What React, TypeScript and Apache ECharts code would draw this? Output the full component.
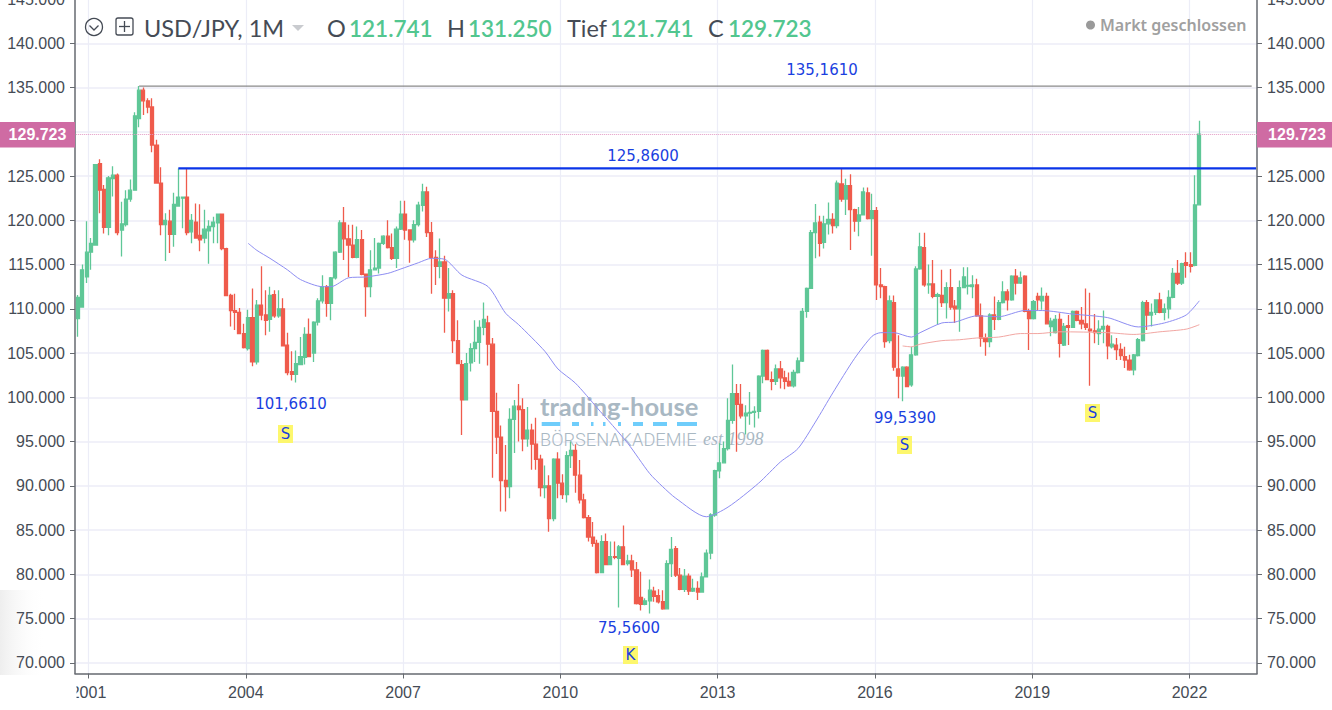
import React, { useEffect, useRef } from "react";
import * as echarts from "echarts";

// [open, close, low, high], monthly, Nov 2000 to Apr 2022
const bars2000 = [[108.9,111.3,106.85,111.55],[110.2,114.4,110.2,115.0]];
const bars2001 = [[113.6,116.4,112.9,119.9],[116.4,117.4,114.4,118.0],[117.2,126.3,117.2,126.3],[126.4,123.4,120.8,126.9],[123.5,119.2,118.5,124.0],[119.2,124.8,118.3,125.0],[124.7,125.1,122.7,126.1],[125.1,118.6,118.3,125.3],[118.9,119.6,115.9,122.1],[119.5,122.4,119.3,123.4],[122.4,123.4,122.1,124.6],[123.4,131.8,123.4,132.2]];
const bars2002 = [[131.5,134.7,130.5,135.16],[134.7,133.5,131.9,135.0],[133.5,132.8,132.1,133.8],[132.8,128.5,127.7,133.8],[128.5,124.2,124.2,129.1],[124.2,119.5,118.3,126.0],[119.5,120.0,115.4,120.8],[119.9,118.4,116.3,121.2],[118.4,121.8,117.0,123.1],[121.6,122.6,121.6,125.86],[122.5,122.6,119.1,122.7],[122.6,118.6,118.3,125.8]];
const bars2003 = [[118.7,120.0,117.4,120.7],[119.8,118.0,118.0,121.9],[118.3,117.8,116.5,121.8],[118.0,119.0,117.4,121.2],[118.8,119.3,115.1,120.0],[119.3,119.8,117.4,120.4],[119.7,120.7,117.4,120.7],[120.7,116.8,116.6,120.7],[116.8,111.5,111.5,116.9],[111.5,109.8,108.0,111.7],[109.8,109.6,107.6,111.7],[109.6,107.2,107.2,110.1]];
const bars2004 = [[107.2,105.6,105.5,108.3],[105.5,109.0,105.3,109.9],[109.0,104.0,103.5,112.3],[104.0,110.4,103.7,111.0],[110.4,109.3,108.7,114.8],[109.3,108.7,107.0,112.1],[108.8,111.5,107.4,112.5],[111.6,109.2,109.0,112.1],[109.2,110.0,109.0,112.1],[110.0,105.8,105.8,111.2],[105.9,102.8,102.5,107.3],[102.9,102.6,101.9,105.2]];
const bars2005 = [[102.6,103.8,101.66,105.3],[103.7,104.6,103.7,106.8],[104.5,107.1,103.7,107.9],[107.1,104.6,104.6,108.9],[105.0,108.5,104.0,108.6],[108.5,110.9,108.1,111.2],[110.9,112.5,110.6,113.8],[112.5,110.6,109.1,112.7],[110.6,113.5,108.7,113.6],[113.5,116.4,113.3,116.5],[116.4,119.7,116.3,120.0],[119.7,117.9,115.5,121.5]];
const bars2006 = [[117.9,117.2,113.6,119.5],[117.2,115.8,115.7,119.5],[115.8,117.8,115.7,119.3],[117.8,113.9,113.8,118.9],[113.9,112.5,109.1,113.9],[112.5,114.4,111.3,116.6],[114.4,114.6,114.4,118.0],[114.6,117.4,114.0,117.5],[117.4,118.2,117.2,118.3],[118.2,116.9,116.8,120.0],[116.9,115.7,115.5,118.5],[115.7,119.0,114.6,119.3]];
const bars2007 = [[119.0,120.7,118.9,122.2],[120.7,118.9,117.8,122.2],[118.9,117.8,115.2,118.9],[117.8,119.5,117.5,120.0],[119.5,121.7,119.3,122.1],[121.7,123.2,121.0,124.14],[123.2,118.6,118.1,123.8],[118.6,115.8,111.7,119.8],[115.8,114.8,112.7,116.6],[114.8,115.3,113.45,117.95],[115.3,111.2,107.3,116.0],[111.2,111.7,109.7,114.6]];
const bars2008 = [[111.7,106.4,105.0,112.1],[106.4,103.8,103.8,108.7],[103.7,99.7,95.75,104.2],[99.7,103.8,99.7,105.0],[103.9,105.5,102.9,106.1],[105.5,106.2,104.0,108.7],[106.2,107.9,103.8,108.7],[107.9,108.8,107.0,110.7],[108.4,106.0,103.6,109.2],[106.0,98.4,90.9,106.7],[98.4,95.5,93.6,100.5],[95.5,90.6,87.1,96.8]];
const bars2009 = [[90.6,89.9,87.1,94.6],[89.9,97.5,88.6,98.75],[97.5,99.0,93.7,99.7],[99.0,98.6,95.0,101.5],[98.6,95.3,93.9,99.9],[95.3,96.3,94.4,98.9],[96.3,94.7,91.8,97.0],[94.7,93.0,91.8,97.7],[93.0,89.8,88.8,93.5],[89.8,90.0,88.6,92.3],[90.0,86.3,84.8,91.2],[86.3,93.0,86.0,93.1]];
const bars2010 = [[93.0,90.3,88.6,93.8],[90.3,89.0,88.5,91.3],[89.0,93.4,88.1,93.9],[93.4,94.0,92.0,95.0],[94.0,91.2,89.2,94.7],[91.2,88.4,88.0,92.9],[88.4,86.4,86.3,89.1],[86.4,84.2,83.7,86.7],[84.2,83.5,83.1,85.9],[83.5,80.2,80.1,83.9],[80.2,83.7,80.2,84.4],[83.7,81.1,81.1,84.6]];
const bars2011 = [[81.1,82.0,81.1,83.7],[82.0,81.9,81.7,83.7],[81.8,83.1,76.25,83.3],[83.1,81.1,81.1,85.5],[81.2,81.5,81.0,82.2],[81.5,80.5,79.7,82.2],[80.5,76.7,76.6,81.4],[77.4,76.6,75.9,80.3],[76.6,77.0,76.5,77.3],[77.0,78.2,75.56,79.4],[78.1,77.5,76.9,78.6],[77.6,76.9,76.7,78.3]];
const bars2012 = [[76.9,76.1,76.0,78.2],[76.1,81.2,76.1,81.6],[81.2,82.8,79.7,84.2],[82.9,79.9,79.7,83.2],[79.9,78.3,78.2,80.7],[78.3,79.8,78.0,80.6],[79.8,78.1,77.65,80.1],[78.1,78.4,78.0,79.5],[78.4,78.0,77.1,79.2],[78.0,79.7,77.9,80.2],[79.7,82.4,79.7,82.8],[82.4,86.7,81.7,86.9]];
const bars2013 = [[86.7,91.7,86.5,91.8],[91.7,92.6,90.85,94.8],[92.6,94.2,92.6,95.0],[94.2,97.4,94.0,99.9],[97.4,100.4,97.0,103.7],[100.4,99.2,93.85,101.5],[99.2,97.9,97.6,101.5],[97.9,98.2,95.8,99.1],[98.2,98.3,96.9,100.6],[98.3,98.4,96.6,99.0],[98.4,102.4,97.6,102.5],[102.4,105.3,101.6,105.4]];
const bars2014 = [[105.3,102.0,102.0,105.4],[102.0,101.8,100.8,102.9],[101.8,103.2,101.4,103.7],[103.2,102.2,101.0,104.1],[102.2,101.8,100.9,103.0],[101.8,101.3,101.2,102.8],[101.3,102.8,101.1,103.1],[102.8,104.1,102.7,104.5],[104.1,109.7,104.0,110.1],[109.7,112.3,109.0,112.4],[112.3,118.6,112.3,118.9],[118.6,119.7,115.7,121.85]];
const bars2015 = [[119.8,117.4,115.9,120.5],[117.5,119.6,116.8,120.5],[119.6,120.1,118.4,122.0],[120.1,119.4,118.5,120.8],[119.4,124.2,119.1,124.5],[124.1,122.4,122.1,125.86],[122.4,123.9,120.6,124.7],[123.9,121.2,116.65,125.2],[121.2,119.9,118.7,121.3],[119.9,120.6,118.2,121.5],[120.6,123.2,120.6,123.7],[123.1,120.2,120.1,123.7]];
const bars2016 = [[120.2,121.1,116.0,123.0],[121.1,112.7,111.0,121.5],[112.7,112.5,111.2,114.6],[112.5,106.3,105.6,112.6],[106.4,110.9,106.1,111.5],[110.7,103.4,103.0,111.5],[103.2,102.4,99.9,107.0],[102.4,103.4,99.54,103.5],[103.4,101.2,101.2,103.5],[101.4,104.8,101.2,105.7],[104.8,114.5,104.7,114.8],[114.5,117.0,114.4,118.6]];
const bars2017 = [[116.9,112.7,112.5,118.6],[112.7,112.8,111.7,115.0],[112.8,111.4,111.2,115.5],[111.4,111.6,108.2,111.8],[111.5,110.7,110.2,114.4],[110.7,112.4,108.9,113.0],[112.4,110.2,109.9,114.5],[110.3,110.0,108.4,111.0],[110.0,112.4,107.4,113.2],[112.4,113.6,112.4,114.7],[112.55,112.65,111.6,114.7],[112.5,112.7,111.2,113.8]];
const bars2018 = [[112.7,109.2,109.1,113.4],[109.2,106.7,105.7,110.6],[106.7,106.3,104.7,107.2],[106.3,109.3,105.65,109.5],[109.3,108.8,107.6,111.4],[108.8,110.7,108.7,111.0],[110.7,111.9,110.6,113.1],[111.9,111.0,109.8,112.2],[111.0,113.7,110.9,113.8],[113.7,112.9,111.6,114.5],[112.9,113.5,112.8,114.2],[113.7,109.7,109.6,113.8]];
const bars2019 = [[109.7,108.9,105.35,110.0],[108.9,110.8,108.8,111.0],[111.4,111.0,109.8,111.8],[110.9,111.4,109.9,112.4],[111.4,108.3,108.3,111.8],[108.0,108.6,106.9,109.0],[107.3,108.8,107.2,109.3],[108.8,106.1,104.5,109.5],[105.9,108.0,105.8,108.4],[108.1,107.9,105.9,109.3],[107.9,109.7,107.9,109.8],[109.7,108.7,108.6,109.8]];
const bars2020 = [[108.7,108.3,107.7,110.2],[108.3,107.9,107.6,112.3],[107.7,107.5,101.3,111.8],[107.5,107.3,106.1,109.4],[107.2,107.7,105.9,108.7],[107.7,108.0,106.1,109.8],[108.0,105.8,104.3,108.2],[105.7,106.0,105.5,107.0],[105.9,105.4,104.2,106.7],[105.4,104.7,104.2,106.1],[104.6,104.2,103.3,105.7],[104.2,103.1,103.0,104.8]];
const bars2021 = [[103.1,104.8,102.5,104.9],[104.7,106.5,104.6,106.7],[106.4,110.7,106.3,110.9],[110.7,109.3,107.6,111.0],[109.3,109.6,108.0,110.6],[109.6,111.0,109.3,111.0],[111.0,109.6,109.5,111.8],[109.6,110.0,108.7,110.6],[110.0,111.3,108.9,112.1],[111.3,114.0,111.2,114.6],[114.0,112.9,112.7,115.5],[112.9,115.1,112.7,115.2]];
const bars2022 = [[115.2,114.9,113.5,116.4],[115.0,114.8,114.1,116.4],[114.9,121.74,114.8,125.1],[121.741,129.723,121.741,131.25]];

// moving averages: [bar index, value]
const blueMa = [[39,117.4],[41,116.6],[44,115.7],[48,114.4],[51,113.3],[56,112.5],[58,112.5],[62,113.5],[66,113.6],[71,114.0],[74,114.5],[78,115.2],[81,115.7],[84,115.6],[88,113.8],[94,112.5],[98,109.5],[101,108.2],[107,105.2],[110,103.2],[114,101.6],[119,98.8],[126,94.8],[131,91.4],[134,89.9],[137,88.6],[144,86.5],[149,87.6],[156,90.3],[161,92.7],[165,94.2],[169,97.2],[173,100.5],[178,104.4],[182,106.9],[184,107.3],[187,107.3],[191,106.8],[193,107.3],[198,108.4],[201,108.5],[206,109.2],[211,109.1],[217,109.8],[221,109.8],[228,109.4],[236,109.0],[243,107.95],[249,108.4],[254,109.3],[257,110.9]];
const redMa = [[189,105.8],[191,105.7],[193,106.0],[198,106.4],[202,106.5],[206,106.7],[211,106.8],[216,107.2],[220,107.2],[225,107.4],[236,107.3],[242,107.1],[248,107.4],[254,107.7],[257,108.2]];

const priceTicks = [70,75,80,85,90,95,100,105,110,115,120,125,130,135,140,145];
const priceLabels = [70,75,80,85,90,95,100,105,110,115,120,125,135,140,145];
const yearTicks = [2001,2004,2007,2010,2013,2016,2019,2022];
const resistanceHigh = [[14,135.161],[269,135.161]];
const resistanceMid = [[23,125.86],[270,125.86]];
const lastPrice = 129.723;

const barCount = 271;
const categories: string[] = [];
for (let i = 0; i < barCount; i++) {
  const m = 10 + i;
  categories.push(`${2000 + Math.floor(m / 12)}-${String((m % 12) + 1).padStart(2, "0")}`);
}

const AXIS = "#666a70";
const LABEL = "#454b55";
const GRID = "#ecedf7";
const UP = "#5fc797";
const DOWN = "#ef5b4c";
const NOTE = "#1a3fe0";
const TITLE = "#454b55";
const VALUE = "#52c68f";
const TAG = "#cf6ba3";
const WM = "#a9b8c3";
const PAGE_SHIFT = 30; // chart sits 30px above the page top: the top scale label is cut off by the page edge

const txt = (text: string, x: number, y: number, font: string, fill: string, align = "left", z = 20) => ({
  type: "text", x, y, z, silent: true,
  style: { text, font, fill, textAlign: align, textVerticalAlign: "middle" },
});
const box = (x: number, y: number, width: number, height: number, fill: any, z = 20) => ({
  type: "rect", x, y, z, silent: true, shape: { x: 0, y: 0, width, height }, style: { fill },
});

const NOTE_FONT = '15px "DejaVu Sans"';
const HEAD = '23.5px Lato';
const HEADV = '600 22.5px Lato';

const graphics = [
  box(0, 590, 46, 88, { type: "linear", x: 0, y: 0, x2: 1, y2: 0, colorStops: [{ offset: 0, color: "#eeeeee" }, { offset: 1, color: "rgba(255,255,255,0)" }] }, -1),
  txt("trading-house", 540, 406, '700 25.5px Lato', WM, "left", 1),
  box(541.7, 422, 18.5, 4, "#6fcdfb", 1), box(572, 422, 7, 4, "#6fcdfb", 1), box(591, 422, 2.5, 4, "#6fcdfb", 1),
  box(603, 422, 2.5, 4, "#6fcdfb", 1), box(618, 422, 3, 4, "#6fcdfb", 1), box(633, 422, 10, 4, "#6fcdfb", 1),
  box(653, 422, 14, 4, "#6fcdfb", 1), box(677, 422, 20, 4, "#6fcdfb", 1),
  txt("BÖRSENAKADEMIE", 540, 439, '300 18.2px Roboto', WM, "left", 1),
  txt("est 1998", 703, 439, 'italic 18px "Liberation Serif"', WM, "left", 1),
  txt("135,1610", 822, 70, NOTE_FONT, NOTE, "center"),
  txt("125,8600", 643, 156, NOTE_FONT, NOTE, "center"),
  txt("101,6610", 291, 404, NOTE_FONT, NOTE, "center"),
  txt("99,5390", 905, 418, NOTE_FONT, NOTE, "center"),
  txt("75,5600", 629, 628, NOTE_FONT, NOTE, "center"),
  box(278, 425, 15, 18, "#fdf76d"), txt("S", 285.5, 434, NOTE_FONT, NOTE, "center", 21),
  box(897, 436, 15, 18, "#fdf76d"), txt("S", 904.5, 445, NOTE_FONT, NOTE, "center", 21),
  box(1085, 404, 15, 18, "#fdf76d"), txt("S", 1092.5, 413, NOTE_FONT, NOTE, "center", 21),
  box(623, 646, 15, 18, "#fdf76d"), txt("K", 630.5, 655, NOTE_FONT, NOTE, "center", 21),
  { type: "circle", z: 20, silent: true, shape: { cx: 94, cy: 27, r: 8.5 }, style: { fill: "none", stroke: TITLE, lineWidth: 1.3 } },
  { type: "polyline", z: 20, silent: true, shape: { points: [[89.5, 25.5], [94, 30], [98.5, 25.5]] }, style: { fill: "none", stroke: TITLE, lineWidth: 1.3 } },
  { type: "rect", z: 20, silent: true, shape: { x: 116, y: 18, width: 17, height: 17, r: 2 }, style: { fill: "none", stroke: TITLE, lineWidth: 1.3 } },
  { type: "line", z: 20, silent: true, shape: { x1: 124.5, y1: 21, x2: 124.5, y2: 32 }, style: { stroke: TITLE, lineWidth: 1.3 } },
  { type: "line", z: 20, silent: true, shape: { x1: 119, y1: 26.5, x2: 130, y2: 26.5 }, style: { stroke: TITLE, lineWidth: 1.3 } },
  txt("USD/JPY, 1M", 144, 28, HEAD, TITLE),
  { type: "polygon", z: 20, silent: true, shape: { points: [[292, 25], [304, 25], [298, 31]] }, style: { fill: "#c9cbcf" } },
  txt("O", 327, 28, HEAD, TITLE), txt("121.741", 349, 28, HEADV, VALUE),
  txt("H", 447, 28, HEAD, TITLE), txt("131.250", 468, 28, HEADV, VALUE),
  txt("Tief", 567, 28, HEAD, TITLE), txt("121.741", 610, 28, HEADV, VALUE),
  txt("C", 708, 28, HEAD, TITLE), txt("129.723", 728, 28, HEADV, VALUE),
  { type: "circle", z: 20, silent: true, shape: { cx: 1090.5, cy: 25, r: 4.5 }, style: { fill: "#9a9a9a" } },
  txt("Markt geschlossen", 1100, 25, '600 16px "Noto Sans"', "#a0a0a0"),
  box(0, 675, 76.5, 35, "#ffffff", 15),
  box(0, 122, 75, 25.5, TAG, 18), txt("129.723", 37.5, 134.5, 'bold 16px "Liberation Sans"', "#ffffff", "center", 19),
  box(1257, 122, 75, 25.5, TAG, 18), txt("129.723", 1297, 134.5, 'bold 16px "Liberation Sans"', "#ffffff", "center", 19),
];

const yAxisBase = {
  type: "value", min: 68.79, max: 147.15, gridIndex: 0,
  axisLine: { show: true, lineStyle: { color: AXIS, width: 1.5 } },
  axisTick: { show: true, length: 5, customValues: priceTicks, lineStyle: { color: AXIS } },
  axisLabel: { customValues: priceLabels, margin: 10, color: LABEL, fontSize: 16, fontFamily: '"Liberation Sans"', formatter: (v: number) => v.toFixed(3) },
};

export default function App() {
  const ref = useRef<HTMLDivElement>(null);
  useEffect(() => {
    document.body.style.margin = "0";
    document.body.style.overflow = "hidden";
    const chart = echarts.init(ref.current!, null, { renderer: "svg" });
    const bars = [...bars2000, ...bars2001, ...bars2002, ...bars2003, ...bars2004, ...bars2005, ...bars2006, ...bars2007, ...bars2008, ...bars2009, ...bars2010, ...bars2011, ...bars2012, ...bars2013, ...bars2014, ...bars2015, ...bars2016, ...bars2017, ...bars2018, ...bars2019, ...bars2020, ...bars2021, ...bars2022];
    chart.setOption({
      animation: false,
      backgroundColor: "#ffffff",
      grid: [
        { left: 75, width: 1182, top: PAGE_SHIFT - 20, bottom: 36.5 },
        { left: 75.82, width: 1182.4, top: PAGE_SHIFT - 20, bottom: 36.5 },
      ],
      xAxis: [
        {
          type: "value", gridIndex: 0, min: 2000.7425, max: 2023.287, position: "bottom",
          axisLine: { show: true, onZero: false, lineStyle: { color: AXIS, width: 1.5 } },
          axisTick: { show: true, length: 5, customValues: yearTicks, lineStyle: { color: AXIS } },
          axisLabel: { customValues: yearTicks, margin: 11, color: LABEL, fontSize: 16, fontFamily: '"Liberation Sans"', formatter: (v: number) => String(v) },
          splitLine: { show: true, lineStyle: { color: GRID, width: 1.2 } },
        },
        { type: "category", gridIndex: 1, data: categories, boundaryGap: true, show: false },
      ],
      yAxis: [
        { ...yAxisBase, position: "left", splitLine: { show: true, lineStyle: { color: GRID, width: 1.5 } } },
        { ...yAxisBase, position: "right", splitLine: { show: false } },
        { type: "value", gridIndex: 1, min: 68.79, max: 147.15, show: false, splitLine: { show: false } },
      ],
      series: [
        {
          type: "candlestick", xAxisIndex: 1, yAxisIndex: 2, data: bars, barWidth: 3.6,
          itemStyle: { color: UP, color0: DOWN, borderColor: UP, borderColor0: DOWN, borderWidth: 1.3 },
          markLine: {
            silent: true, symbol: "none", label: { show: false }, animation: false,
            data: [{ yAxis: lastPrice }],
            lineStyle: { type: "dotted", color: "#e39ac4", width: 1 },
          },
        },
        { type: "line", xAxisIndex: 1, yAxisIndex: 2, data: blueMa, showSymbol: false, smooth: 0.25, lineStyle: { color: "#8d8df2", width: 1 } },
        { type: "line", xAxisIndex: 1, yAxisIndex: 2, data: redMa, showSymbol: false, smooth: 0.25, lineStyle: { color: "#f2a6a2", width: 1 } },
        { type: "line", xAxisIndex: 1, yAxisIndex: 2, data: resistanceHigh, showSymbol: false, lineStyle: { color: "#8a8a8a", width: 1.2 } },
        { type: "line", xAxisIndex: 1, yAxisIndex: 2, data: resistanceMid, showSymbol: false, z: 3, lineStyle: { color: "#0b35e8", width: 2.2 } },
      ],
      graphic: [{ type: "group", x: 0, y: PAGE_SHIFT, children: graphics }],
    });
    return () => chart.dispose();
  }, []);
  return <div ref={ref} style={{ position: "absolute", left: 0, top: -PAGE_SHIFT, width: 1332, height: 710 + PAGE_SHIFT }} />;
}
